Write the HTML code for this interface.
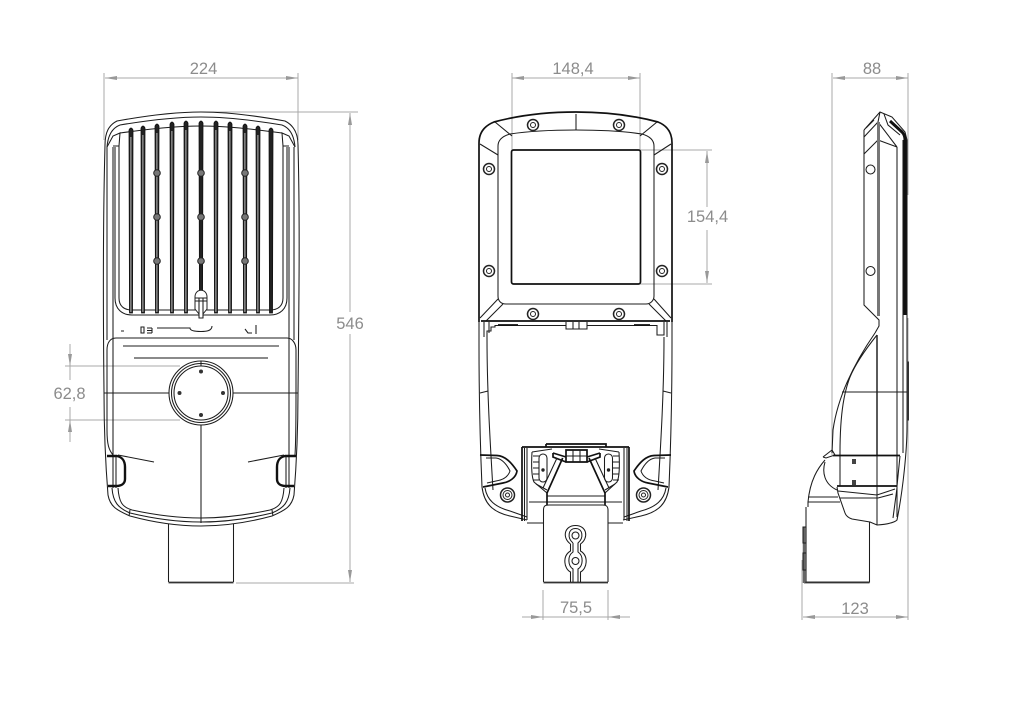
<!DOCTYPE html>
<html>
<head>
<meta charset="utf-8">
<style>
html,body{margin:0;padding:0;background:#fff;}
svg{display:block;}
.k{fill:none;stroke:#1c1c1c;stroke-width:1.050;}
.t{fill:none;stroke:#111;stroke-width:1.700;}
.h{fill:none;stroke:#111;stroke-width:2.400;}
.d{fill:none;stroke:#a8a8a8;stroke-width:1;}
.a{fill:#999;stroke:none;}
text{font-family:"Liberation Sans",sans-serif;font-size:16.500px;fill:#8c8c8c;text-anchor:middle;}
</style>
</head>
<body>
<svg width="1024" height="724" viewBox="0 0 1024 724" xmlns="http://www.w3.org/2000/svg">
<rect width="1024" height="724" fill="#fff"/>

<!-- LEFT VIEW -->
<g>
<path class="d" d="M104 73V140M298 73V140M201 112H358M105 78H298M350 113V312M350 334V582M236 583H354M70 344V380M70 407V442M65 366H180M65 420H180"/>
<path class="a" d="M105 78l12-2v4zM298 78l-12-2v4zM350 113l-2 12h4zM350 582l-2-12h4zM70 366l-2-12h4zM70 420l-2 12h4z"/>
<text x="203.500" y="74">224</text>
<text x="350" y="329">546</text>
<text x="69.500" y="399">62,8</text>

<path class="k" d="M105 145C105 132 109 125 117 121C150 115 175 112 201 112C227 112 252 115 285 121C293 125 298 132 298 145C300 220 299 300 298 392C298 430 296 470 294 495C292 506 286 510 272 516C250 522 225 526 201 526C177 526 152 522 130 516C116 510 110 506 108 495C106 470 104 430 104 392C103 300 103 220 105 145Z"/>
<path class="k" d="M120 125C150 120 175 117 201 117C227 117 252 120 282 125M107 147C108 135 112 128 120 125M295 147C294 135 290 128 282 125"/>
<path class="k" d="M107 147V340M113 147V338M289 147V338M294 147V340M119 146V298C119 306 124 310 132 310H270C278 310 283 306 283 298V146"/>
<path class="k" d="M115 298C115 309 122 315 132 315H270C280 315 287 309 287 298M115 147V298M287 147V298"/>
<path class="k" d="M107 147L113 136L120 133L119 146H113M295 147L289 136L282 133L283 146H289M120 133C150 129 175 126 201 126C227 126 252 129 282 133"/>
<!-- fins -->
<g fill="#222" stroke="#111" stroke-width=".8">
<path d="M129 130q2-4 4 0l-.5 183h-3z"/><path d="M141 128q2-4 4 0l-.5 185h-3z"/><path d="M155 126q2-4 4 0l-.5 187h-3z"/><path d="M170 124q2-4 4 0l-.5 189h-3z"/><path d="M184 123q2-4 4 0l-.5 190h-3z"/><path d="M199 123q2-4 4 0l-.5 190h-3z"/><path d="M214 123q2-4 4 0l-.5 190h-3z"/><path d="M228 124q2-4 4 0l-.5 189h-3z"/><path d="M243 126q2-4 4 0l-.5 187h-3z"/><path d="M256 128q2-4 4 0l-.5 185h-3z"/><path d="M269 130q2-4 4 0l-.5 183h-3z"/>
</g>
<g fill="#bbb" stroke="none">
<rect x="130.400" y="137" width="1" height="175"/><rect x="142.400" y="135" width="1" height="177"/><rect x="156.400" y="133" width="1" height="179"/><rect x="171.400" y="131" width="1" height="181"/><rect x="185.400" y="130" width="1" height="182"/><rect x="215.400" y="130" width="1" height="182"/><rect x="229.400" y="131" width="1" height="181"/><rect x="244.400" y="133" width="1" height="179"/><rect x="257.400" y="135" width="1" height="177"/>
</g>
<g fill="#777" stroke="#222" stroke-width="1">
<circle cx="157" cy="173" r="3.300"/><circle cx="201" cy="173" r="3.300"/><circle cx="245" cy="173" r="3.300"/>
<circle cx="157" cy="217" r="3.300"/><circle cx="201" cy="217" r="3.300"/><circle cx="245" cy="217" r="3.300"/>
<circle cx="157" cy="261" r="3.300"/><circle cx="201" cy="261" r="3.300"/><circle cx="245" cy="261" r="3.300"/>
</g>
<path d="M195 309V297C195 288 207 288 207 297V309L203 314V318H199V314Z" fill="#fff" stroke="#222"/>
<path class="k" d="M195 298H207M195 301H207M199 298V318M203 298V318"/>
<path class="k" d="M121 331h3M141 327h3v6h-3zM147 328h5M147 330.500h5M147 333h5M152 328V333M157 328H190C190 331 196 331.500 201 331.500C206 331.500 212 331 212 326M245 329l3 4h4M256 325V334"/>
<!-- cap -->
<path class="k" d="M107 350C107 343 110 338 116 338H287C292 338 296 343 296 350V392C296 420 296 440 295 455M107 350V430C107 445 109 450 113 455"/>
<path class="k" d="M113 338V488M289 338V488"/>
<path d="M123 346H279" class="k"/><path d="M134 358H268" fill="none" stroke="#444" stroke-width="1.300"/>
<circle class="k" cx="201" cy="393" r="32"/><circle class="k" cx="201" cy="393" r="29.500"/><circle class="k" cx="201" cy="393" r="27"/>
<path class="k" d="M104 393H169M233 393H298M201 361V366M201 425V523"/>
<g fill="#333"><circle cx="201" cy="371.500" r="2"/><circle cx="179.500" cy="393" r="2"/><circle cx="223" cy="393" r="2"/><circle cx="201" cy="415" r="2"/></g>
<path class="h" d="M107 456H117C122 457 125 461 125 467V479C125 484 121 486 116 486H108"/>
<path class="h" d="M296 456H285C280 457 277 461 277 467V479C277 484 281 486 286 486H294"/>
<path class="k" d="M118 455L154 462M284 455L248 462M116 456V488M286 456V488"/>
<path class="k" d="M118 488C119 502 122 507 132 510C155 515 178 518 201 518C224 518 247 515 270 510C280 507 283 502 284 488M130 510L129 516M272 510L273 516"/>
<path class="k" d="M112 488C113 502 118 508 130 513C155 519 178 522 201 522C224 522 247 519 272 513C284 508 289 502 290 488"/>
<!-- pole -->
<path class="k" d="M168.500 524V582M233.500 524V582"/>
<path d="M168.500 582.500H233.500" fill="none" stroke="#333" stroke-width="1.800"/>
</g>

<!-- MIDDLE VIEW -->
<g>
<path class="d" d="M512 73V150M640 73V150M512 78H640M640 150H712M640 284H712M707 151V207M707 230V283M543 590V620M608 590V620M522 617H630"/>
<path class="a" d="M512 78l12-2v4zM640 78l-12-2v4zM707 151l-2 12h4zM707 283l-2-12h4zM543 617l-12-2v4zM608 617l12-2v4z"/>
<text x="573" y="74">148,4</text>
<text x="707.500" y="222">154,4</text>
<text x="576" y="613">75,5</text>

<path class="t" d="M479 322V143C479 133 484 126 494 122C520 115 550 112 576 112C602 112 632 115 658 122C668 126 672 133 672 143V322"/>
<path class="k" d="M498 146C498 140 503 136 510 134C530 131 555 130 576 130C597 130 622 131 642 134C649 136 654 140 654 146V296C654 301 650 304 646 304H506C501 304 498 301 498 296Z"/>
<rect x="511.500" y="150" width="129" height="134" rx="2" class="t"/>
<path class="k" d="M576 114V130M495 122L512 136M657 122L640 136M480 144L498 155M671 144L654 155M498 299L480 318M654 299L671 318M503 304L486 321M649 304L666 321"/>
<path class="t" d="M481 321H670"/>
<g fill="#fff" stroke="#222">
<circle cx="533" cy="125" r="5.500" stroke-width="1.500"/><circle cx="533" cy="125" r="2.500"/>
<circle cx="619" cy="125" r="5.500" stroke-width="1.500"/><circle cx="619" cy="125" r="2.500"/>
<circle cx="489" cy="169" r="5.500" stroke-width="1.500"/><circle cx="489" cy="169" r="2.500"/>
<circle cx="662" cy="169" r="5.500" stroke-width="1.500"/><circle cx="662" cy="169" r="2.500"/>
<circle cx="489" cy="271" r="5.500" stroke-width="1.500"/><circle cx="489" cy="271" r="2.500"/>
<circle cx="662" cy="271" r="5.500" stroke-width="1.500"/><circle cx="662" cy="271" r="2.500"/>
<circle cx="533" cy="314" r="5.500" stroke-width="1.500"/><circle cx="533" cy="314" r="2.500"/>
<circle cx="619" cy="314" r="5.500" stroke-width="1.500"/><circle cx="619" cy="314" r="2.500"/>
</g>
<path class="k" d="M566 322V329H587V322M573 322V329M579 322V329"/>
<path class="k" d="M484 322V337M489 322V333M487 337V331H491V327H495V325.500H566M587 325.500H657V335H664V322M667 322V337"/>
<path class="t" d="M498 325H518M634 325H650"/>
<!-- lower body -->
<path class="k" d="M479 322V345C479 400 480 440 482 487C484 503 492 512 510 516L527 520M672 322V345C672 400 671 440 669 487C667 503 659 512 641 516L623 520"/>
<path class="k" d="M487 337C487 390 490 440 493 490M664 337C664 390 661 440 658 490M480 393L488 391M671 393L663 391"/>
<path class="k" d="M485 488C487 500 495 507 510 511L527 517M666 488C664 500 656 507 641 511L624 517M527 523H543M608 523H623"/>
<!-- handles -->
<path class="t" d="M480 455L497 455.500C505 456 511 462 517 471C516 478 509 482 503 483L483 487"/>
<path class="t" d="M671 455L654 455.500C646 456 640 462 634 471C635 478 642 482 648 483L668 487"/>
<path class="k" d="M486 458H496C503 459 507 465 510 471C508 477 503 480 496 481L487 483M665 458H655C648 459 644 465 641 471C643 477 648 480 655 481L664 483"/>
<g fill="none" stroke="#222">
<circle cx="507.500" cy="495" r="7" stroke-width="1.500"/><circle cx="507.500" cy="495" r="4.500"/><circle cx="507.500" cy="495" r="2"/>
<circle cx="643.500" cy="495" r="7" stroke-width="1.500"/><circle cx="643.500" cy="495" r="4.500"/><circle cx="643.500" cy="495" r="2"/>
</g>
<!-- bracket -->
<path class="t" d="M522 447H629M546 444H606V447M546 444V447M522 447V521M629 447V521"/>
<path class="k" d="M524.500 448V521M527 448V520M627 448V521M624 448V520M547 496H605M529 502H622"/>
<path class="k" d="M532 452C531 470 532 478 534 482L547 493M619 452C620 470 619 478 617 482L605 493M532 452L552 449M619 452L599 449"/>
<path class="k" d="M536 484L547 490M615 484L605 490"/>
<rect x="539" y="454" width="8" height="28" rx="4" class="k"/><rect x="604.500" y="454" width="8" height="28" rx="4" class="k"/>
<circle cx="543" cy="470" r="1.700" fill="#222"/><circle cx="608.500" cy="470" r="1.700" fill="#222"/>
<path class="k" d="M533 456h6M533 462h6M533 468h6M533 474h6M533 480h6M613 456h6M613 462h6M613 468h6M613 474h6M613 480h6"/>
<path class="t" d="M566 450H587V462H566ZM553 453L566 457M600 453L587 457M553 453V457L566 462M600 453V457L587 462"/>
<path class="k" d="M573 450V462M580 450V462M566 456H587"/>
<path class="t" d="M562.700 458L547 493V505M589 458L605 493V505"/>
<path class="k" d="M557 458L543 488M595 458L609 488"/>
<!-- mount -->
<path class="k" d="M543.500 510C543.500 506 545 505 549 505H603C606 505 608 506 608 510V582M543.500 510V582"/>
<path d="M543.500 582.500H608" fill="none" stroke="#333" stroke-width="1.800"/>
<path class="k" d="M570.500 544C562 538 564 525.500 575.500 525.500C587 525.500 589 538 580.500 544V551C589 556 587 569 580.500 572V582M570.500 544V551C562 556 564 569 570.500 572V582"/>
<path class="k" d="M573 543C567 538 568 528.500 575.500 528.500C583 528.500 584 538 578 543V552C584 556 583 566 578 569V582M573 543V552C567 556 568 566 573 569V582"/>
<circle class="k" cx="575.500" cy="535.500" r="3.500"/><circle class="k" cx="575.500" cy="561" r="3.500"/>
</g>

<!-- RIGHT VIEW -->
<g>
<path class="d" d="M832 73V455M908 73V195M908 318V620M802 560V620M833 78H908M803 617H908"/>
<path class="a" d="M833 78l12-2v4zM908 78l-12-2v4zM803 617l12-2v4zM908 617l-12-2v4z"/>
<text x="872" y="74">88</text>
<text x="855" y="614">123</text>

<path class="k" d="M864 130L880 112L892 117L905 132L907 140V427C907 450 903 490 897 520C895 522 890 524 877 525L870 522L852 519C849 518 846 516 845 513L838 493L837 487"/>
<path class="k" d="M864 130V305L879 320V326L875 333"/>
<path class="k" d="M864 154L878 140L897 147M864 137L878 122V140M880 112L878 122L897 147M884 114L888 125L900 135"/>
<path d="M878.500 122V316" stroke="#777" stroke-width="3" fill="none"/>
<path class="k" d="M897 147V517M903 140V453"/>
<path d="M905 140V315" stroke="#111" stroke-width="3" fill="none"/>
<path d="M890 121L902 132Q905 135 905 140" fill="none" stroke="#111" stroke-width="3"/>
<path d="M907 362H908.500V420H907Z" fill="#333" stroke="#333"/>
<circle class="k" cx="870.500" cy="169.500" r="4.500"/><circle class="k" cx="870.500" cy="271" r="4.500"/>
<path class="k" d="M866 128L874 120" stroke-width="2"/>
<!-- lower curve -->
<path class="k" d="M875 333C855 362 838 395 833 430L832 453M877 335C865 350 855 365 850 377C845 390 840 410 840 453V486"/>
<path d="M877 335V455" fill="none" stroke="#222" stroke-width="1.500"/>
<path class="k" d="M877 455V525M842 392H907"/>
<path class="t" d="M833 455.500H900M837 486H897" stroke-width="2"/>
<path class="k" d="M900 456L897 486M897 488L893 518M838 491L877 495L895 489M840 498H878L893 494"/>
<rect x="852" y="459" width="4" height="5" fill="#444"/><rect x="852" y="480" width="4" height="5" fill="#444"/>
<!-- hinge -->
<path class="k" d="M823 457L832 450L835 455L826 458L823 457M825 460C818 468 810 480 808 502V507"/>
<path class="k" d="M825 462C822 472 824 484 837 490M808 497H838M808 502H840"/>
<path class="k" d="M806 507V582H869.500V522"/>
<path d="M804 582.500H869.500" fill="none" stroke="#333" stroke-width="1.800"/>
<path d="M804 583V527" fill="none" stroke="#666" stroke-width="2.500"/>
<path class="k" d="M803 527H806V543H803ZM803 553H806V570H803Z"/>
</g>
</svg>
</body>
</html>
